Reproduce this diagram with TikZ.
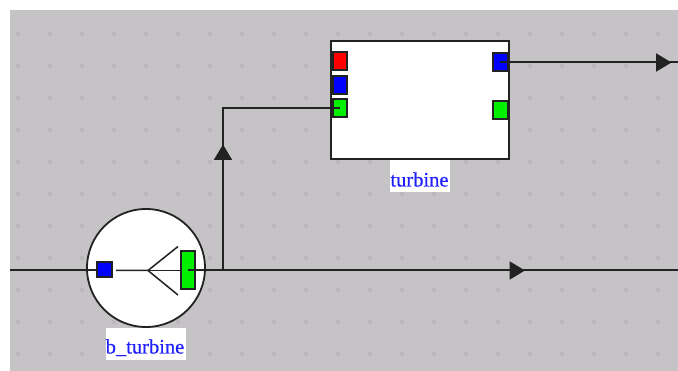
\documentclass[tikz,border=0pt]{standalone}
\usepackage{fontspec}
\setmainfont{Liberation Serif}
\newfontfamily\lblfont[FakeBold=0.5]{Liberation Serif}
\usetikzlibrary{arrows.meta}
\definecolor{bggrey}{HTML}{C6C3C6}
\definecolor{dotgrey}{HTML}{BAB8BA}
\definecolor{inkline}{HTML}{222222}
\definecolor{lblblue}{HTML}{2020FF}
\definecolor{pblue}{HTML}{0000FF}
\definecolor{pgreen}{HTML}{00F000}
\definecolor{pred}{HTML}{FF0000}
\tikzset{
  x=1pt,y=-1pt,
  wire/.style={draw=inkline,line width=2pt},
  thinwire/.style={draw=inkline,line width=1.5pt},
  tipped/.style={wire,-{Triangle[length=15.5pt,width=18pt]}},
  port/.style={draw=inkline,line width=2pt,minimum width=#1,inner sep=0pt,outer sep=0pt},
  lbl/.style={fill=white,text=lblblue,font=\lblfont\fontsize{20.5}{21}\selectfont,inner sep=0pt,outer sep=0pt},
}
\begin{document}
\begin{tikzpicture}
\useasboundingbox (0,0) rectangle (678,371);
\fill[white] (0,0) rectangle (678,371);
\fill[bggrey] (10,10) rectangle (678,371);
\foreach \i in {0,...,20} \foreach \j in {0,...,10}
  \fill[dotgrey] ({16+32*\i},{32+32*\j}) rectangle ++(4,4);

% machines
\node[draw=inkline,line width=2pt,fill=white,minimum width=178pt,minimum height=118pt,inner sep=0pt] (turbine) at (420,100) {};
\node[draw=inkline,line width=1.8pt,fill=white,circle,minimum size=118pt,inner sep=0pt] (bturbine) at (146,268) {};

% free ends and corners
\coordinate (westend) at (10,270.5);
\coordinate (eastend) at (678,270.5);
\coordinate (northeast) at (678,62.5);
\coordinate (junction) at (223,270.5);
\coordinate (riser) at (223,108);
\coordinate (forkroot) at (148,270.5);
\coordinate (forkstem) at (116,270.5);
\coordinate (forkup) at (178,246.5);
\coordinate (forkdown) at (178,295);
\coordinate (tipup) at (223,144.5);
\coordinate (tipeast) at (525,270.5);
\coordinate (tipne) at (671.5,62.5);

% ports
\node[port=15pt,minimum height=15pt,fill=pblue] (bin) at (104,269.5) {};
\node[port=14pt,minimum height=38pt,fill=pgreen] (bout) at (188,270) {};
\node[port=14pt,minimum height=18pt,fill=pred] (tred) at (340,61.5) {};
\node[port=14pt,minimum height=18pt,fill=pblue] (tblue) at (340,85.5) {};
\node[port=14pt,minimum height=18pt,fill=pgreen] (tgreen) at (340,108) {};
\node[port=15pt,minimum height=18pt,fill=pblue] (toutb) at (500,62) {};
\node[port=15pt,minimum height=18pt,fill=pgreen] (toutg) at (500,110) {};

% connectors
\draw[wire] (westend) -- (bin.west |- westend);
\draw[wire] (bout.center |- junction) -- (eastend);
\draw[tipped] (bout.center |- junction) -- (tipeast);
\draw[wire] (junction) -- (riser) -- (tgreen.center);
\draw[tipped] (junction) -- (tipup);
\draw[wire] (toutb.center |- northeast) -- (northeast);
\draw[tipped] (toutb.center |- northeast) -- (tipne);

% fork
\draw[thinwire] (forkstem) -- (forkroot) -- (forkup);
\draw[thinwire] (forkroot) -- (forkdown);
\draw[thinwire] (forkroot) -- (bout.west |- forkroot);

% labels
\node[lbl,minimum width=60pt,minimum height=32pt] (lt) at (419.5,176) {\raisebox{-10.5pt}[0pt][0pt]{turbine}};
\node[lbl,minimum width=80pt,minimum height=32pt] (lb) at (146,344) {\hspace{-2pt}\raisebox{-9.5pt}[0pt][0pt]{b\_turbine}};
\end{tikzpicture}
\end{document}
